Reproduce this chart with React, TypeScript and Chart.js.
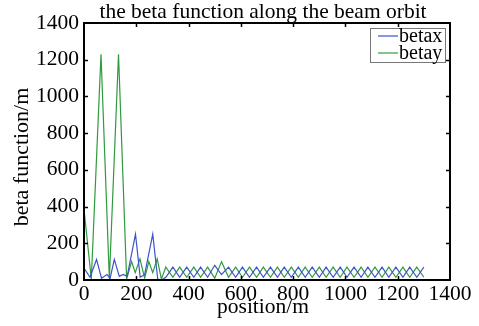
import React, { useEffect, useRef } from "react";
import { Chart, registerables } from "chart.js";

Chart.register(...registerables);

const titleText = "the beta function along the beam orbit";
const xTitle = "position/m";
const yTitle = "beta function/m";
const seriesNames = ["betax", "betay"];
const xTickValues = [0, 200, 400, 600, 800, 1000, 1200, 1400];
const yTickValues = [0, 200, 400, 600, 800, 1000, 1200, 1400];

// early (irregular) section
const betaxEarlyPos = [0, 23, 48, 67, 88, 100, 116, 135, 150, 165, 197, 215, 232, 263, 282, 297];
const betaxEarlyVal = [65, 15, 112, 10, 30, 10, 112, 20, 30, 20, 250, 15, 30, 250, 5, 0];
const betayEarlyPos = [0, 28, 65, 97, 132, 163, 182, 196, 214, 232, 248, 263, 280, 296];
const betayEarlyVal = [385, 5, 1230, 5, 1230, 5, 100, 40, 115, 10, 100, 40, 115, 5];

// periodic section
const periodPos = [313, 340, 366, 393, 420, 446, 473, 500, 526, 553, 580, 606, 633, 660, 686, 713, 740, 766, 793, 820, 846, 873, 900, 926, 953, 980, 1006, 1033, 1060, 1086, 1113, 1140, 1166, 1193, 1220, 1246, 1273, 1300];
const betaxPeriodVal = [15, 70, 15, 70, 15, 70, 15, 80, 30, 70, 15, 70, 15, 70, 15, 70, 15, 70, 15, 70, 15, 70, 15, 70, 15, 70, 15, 70, 15, 70, 15, 70, 15, 70, 15, 70, 15, 70];
const betayPeriodVal = [70, 15, 70, 15, 70, 15, 70, 10, 100, 15, 70, 15, 70, 15, 70, 15, 70, 15, 70, 15, 70, 15, 70, 15, 70, 15, 70, 15, 70, 15, 70, 15, 70, 15, 70, 15, 70, 15];

const betaxPos = [...betaxEarlyPos, ...periodPos];
const betaxVal = [...betaxEarlyVal, ...betaxPeriodVal];
const betayPos = [...betayEarlyPos, ...periodPos];
const betayVal = [...betayEarlyVal, ...betayPeriodVal];

const BLUE = "#3b55c9";
const GREEN = "#2f9a3f";
const FONT = "'Liberation Serif', 'Times New Roman', serif";

const decorPlugin = {
  id: "decor",
  afterDraw(chart: any) {
    const { ctx, chartArea: a, scales } = chart;
    const xs = scales.x;
    const ys = scales.y;
    ctx.save();
    // frame
    ctx.strokeStyle = "#000";
    ctx.lineWidth = 2;
    ctx.strokeRect(a.left, a.top, a.right - a.left, a.bottom - a.top);
    // inward ticks
    ctx.lineWidth = 1.5;
    const tl = 4;
    ctx.beginPath();
    xTickValues.forEach((v) => {
      const px = Math.round(xs.getPixelForValue(v)) + 0.5;
      if (px <= a.left + 1 || px >= a.right - 1) return;
      ctx.moveTo(px, a.bottom);
      ctx.lineTo(px, a.bottom - tl);
      ctx.moveTo(px, a.top);
      ctx.lineTo(px, a.top + tl);
    });
    yTickValues.forEach((v) => {
      const py = Math.round(ys.getPixelForValue(v)) + 0.5;
      if (py <= a.top + 1 || py >= a.bottom - 1) return;
      ctx.moveTo(a.left, py);
      ctx.lineTo(a.left + tl, py);
      ctx.moveTo(a.right, py);
      ctx.lineTo(a.right - tl, py);
    });
    ctx.stroke();

    // title
    ctx.fillStyle = "#000";
    ctx.font = `21.5px ${FONT}`;
    ctx.textAlign = "center";
    ctx.textBaseline = "alphabetic";
    ctx.fillText(titleText, 263, 18);
    // x title
    ctx.fillText(xTitle, 263, 313);
    // y title
    ctx.save();
    ctx.font = `22px ${FONT}`;
    ctx.translate(28, 157);
    ctx.rotate(-Math.PI / 2);
    ctx.textBaseline = "alphabetic";
    ctx.fillText(yTitle, 0, 0);
    ctx.restore();

    // legend
    const lx = 370, ly = 28, lw = 75, lh = 34;
    ctx.fillStyle = "#fff";
    ctx.fillRect(lx, ly, lw, lh);
    ctx.strokeStyle = "#777";
    ctx.lineWidth = 1;
    ctx.strokeRect(lx + 0.5, ly + 0.5, lw, lh);
    const rows = [
      { name: seriesNames[0], color: BLUE, y: 36 },
      { name: seriesNames[1], color: GREEN, y: 53 },
    ];
    rows.forEach((r) => {
      ctx.strokeStyle = r.color;
      ctx.lineWidth = 1.2;
      ctx.beginPath();
      ctx.moveTo(378, r.y);
      ctx.lineTo(398, r.y);
      ctx.stroke();
      ctx.fillStyle = "#000";
      ctx.font = `20px ${FONT}`;
      ctx.textAlign = "left";
      ctx.textBaseline = "middle";
      ctx.fillText(r.name, 399, r.y + 1);
    });
    ctx.restore();
  },
};

export default function App() {
  const ref = useRef<HTMLCanvasElement | null>(null);
  useEffect(() => {
    document.body.style.margin = "0";
    const canvas = ref.current;
    if (!canvas) return;
    const chart = new Chart(canvas, {
      type: "line",
      data: {
        datasets: [
          {
            label: seriesNames[0],
            data: betaxPos.map((x, i) => ({ x, y: betaxVal[i] })),
            borderColor: BLUE,
            borderWidth: 1.2,
            pointRadius: 0,
            tension: 0,
            fill: false,
          },
          {
            label: seriesNames[1],
            data: betayPos.map((x, i) => ({ x, y: betayVal[i] })),
            borderColor: GREEN,
            borderWidth: 1.2,
            pointRadius: 0,
            tension: 0,
            fill: false,
          },
        ],
      },
      options: {
        animation: false,
        responsive: false,
        maintainAspectRatio: false,
        layout: { padding: { left: 0, top: 23, right: 29, bottom: 0 } },
        plugins: {
          legend: { display: false },
          title: { display: false },
          tooltip: { enabled: false },
        },
        scales: {
          x: {
            type: "linear",
            min: 0,
            max: 1400,
            afterFit: (s: any) => {
              s.height = 46;
            },
            afterBuildTicks: (s: any) => {
              s.ticks = xTickValues.map((v) => ({ value: v }));
            },
            grid: { display: false, drawTicks: false },
            border: { display: false },
            ticks: {
              color: "#000",
              padding: 1,
              maxRotation: 0,
              autoSkip: false,
              callback: (v: any) => String(v),
              font: { family: FONT, size: 21.5 },
            },
          },
          y: {
            type: "linear",
            min: 0,
            max: 1400,
            afterFit: (s: any) => {
              s.width = 84;
            },
            afterBuildTicks: (s: any) => {
              s.ticks = yTickValues.map((v) => ({ value: v }));
            },
            grid: { display: false, drawTicks: false },
            border: { display: false },
            ticks: {
              color: "#000",
              padding: 5,
              autoSkip: false,
              callback: (v: any) => String(v),
              font: { family: FONT, size: 21.5 },
            },
          },
        },
      },
      plugins: [decorPlugin],
    });
    return () => chart.destroy();
  }, []);
  return (
    <div style={{ position: "absolute", left: 0, top: 0, width: 479, height: 326, background: "#fff" }}>
      <canvas ref={ref} width={479} height={326} style={{ width: 479, height: 326 }} />
    </div>
  );
}
